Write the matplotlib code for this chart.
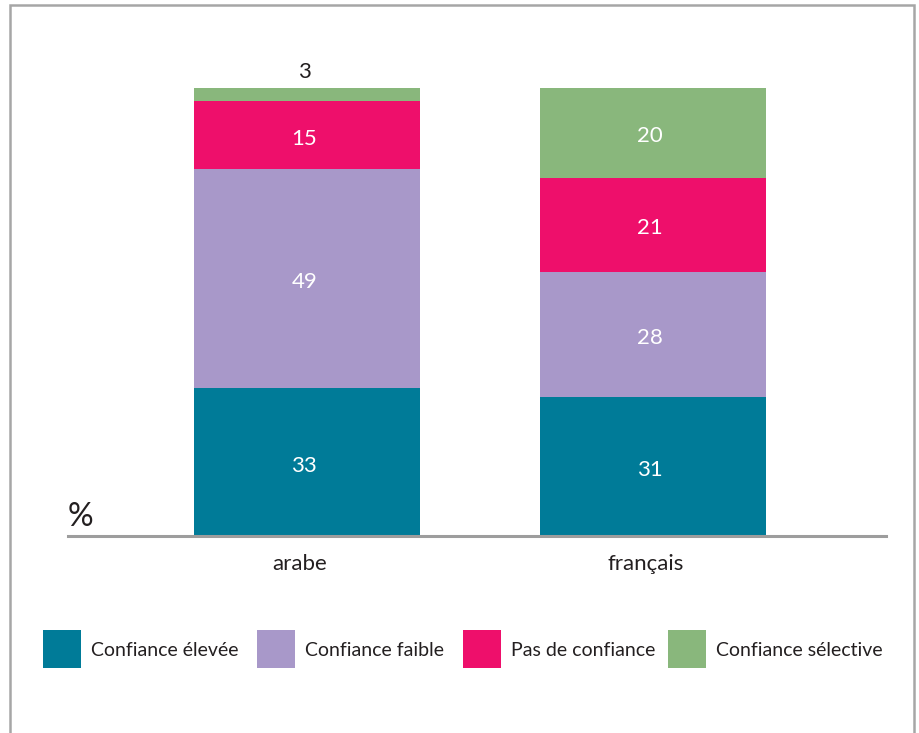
import matplotlib.pyplot as plt
import matplotlib.transforms as mtransforms
from matplotlib.patches import Rectangle
import numpy as np

plt.rcParams['font.family'] = ['Lato', 'DejaVu Sans']

# Stacked shares (%) per language, bottom to top
langues = ['arabe', 'français']
series = ['Confiance élevée', 'Confiance faible', 'Pas de confiance', 'Confiance sélective']
elevee = [33, 31]
faible = [49, 28]
pas_conf = [15, 21]
selective = [3, 20]
couleurs = ['#007b98', '#a898c9', '#ee0f6b', '#89b77c']

W, H = 920, 733
fig = plt.figure(figsize=(W / 100, H / 100), dpi=100, facecolor='white')

def px(x0, y0, x1, y1):
    # pixel box (top-left origin) -> figure fraction rect
    return [x0 / W, 1 - y1 / H, (x1 - x0) / W, (y1 - y0) / H]

ax = fig.add_axes(px(68, 88, 886, 536))
x = np.arange(len(langues))
bas = np.zeros(len(langues))
for vals, col in zip([elevee, faible, pas_conf, selective], couleurs):
    vals = np.array(vals, dtype=float)
    ax.bar(x, vals, bottom=bas, width=0.653, color=col, linewidth=0)
    for xi, v, b in zip(x, vals, bas):
        if v >= 10:
            ax.text(xi - 0.008, b + v / 2 - 0.8, f'{v:.0f}', ha='center', va='center',
                    color='white', fontsize=16)
        else:
            ax.text(xi - 0.008, b + v + 1.3, f'{v:.0f}', ha='center', va='bottom',
                    color='#231f20', fontsize=16, clip_on=False)
    bas += vals

ax.set_xlim(-0.691, 1.673)
ax.set_ylim(0, 100)
for s in ['top', 'right', 'left']:
    ax.spines[s].set_visible(False)
ax.spines['bottom'].set_color('#9d9d9d')
ax.spines['bottom'].set_linewidth(2.2)
ax.set_yticks([])
ax.set_xticks(x)
ax.set_xticklabels(langues, fontsize=16, color='#231f20')
ax.tick_params(axis='x', length=0, pad=13)
# nudge the category names slightly left
decal = mtransforms.ScaledTranslation(-7 / 100, 0, fig.dpi_scale_trans)
for lab in ax.get_xticklabels():
    lab.set_transform(lab.get_transform() + decal)
ax.text(0.0, 0.01, '%', transform=ax.transAxes, ha='left', va='bottom',
        fontsize=23, color='#231f20')

# legend: squares with labels
leg_x = [43, 257, 463, 668]
for lx, nom, col in zip(leg_x, series, couleurs):
    fig.patches.append(Rectangle((lx / W, 1 - 668 / H), 38 / W, 38 / H,
                                 transform=fig.transFigure, facecolor=col,
                                 edgecolor='none'))
    fig.text((lx + 48) / W, 1 - 650 / H, nom, ha='left', va='center',
             fontsize=14, color='#231f20')

# outer frame
fig.patches.append(Rectangle((10.5 / W, -0.05), 904 / W, 1.05 - 4.5 / H,
                             transform=fig.transFigure, facecolor='none',
                             edgecolor='#a6a6a6', linewidth=1.8))

fig.savefig('out.png', dpi=100, facecolor='white')
